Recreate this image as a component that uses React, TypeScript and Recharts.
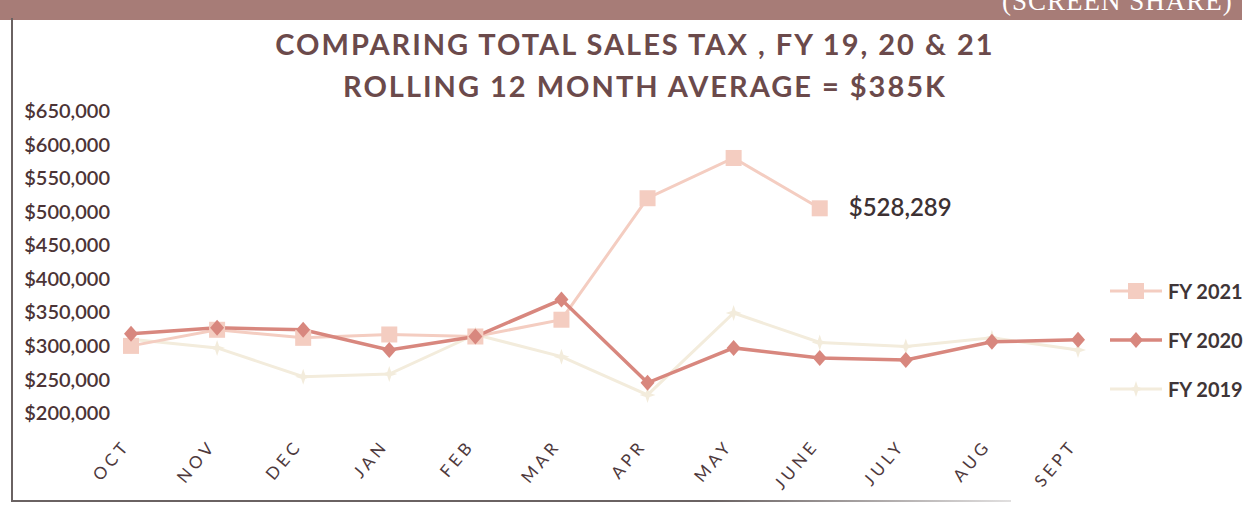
import React from 'react'
import { LineChart, Line, XAxis, YAxis, LabelList } from 'recharts'

// values
const months = ['OCT', 'NOV', 'DEC', 'JAN', 'FEB', 'MAR', 'APR', 'MAY', 'JUNE', 'JULY', 'AUG', 'SEPT']
const fy2021 = [300000, 324000, 312000, 317000, 314000, 339000, 520000, 580000, 505000, null, null, null]
const fy2020 = [318000, 327000, 324000, 294000, 314000, 369000, 245000, 297000, 282000, 279000, 306000, 309000]
const fy2019 = [310000, 297000, 254000, 258000, 317000, 284000, 227000, 349000, 305000, 299000, 312000, 294000]
const yTicks = [200000, 250000, 300000, 350000, 400000, 450000, 500000, 550000, 600000, 650000]

const title = 'COMPARING TOTAL SALES TAX , FY 19, 20 & 21'
const subtitle = 'ROLLING 12 MONTH AVERAGE = $385K'
const calloutText = '$528,289'
const calloutMonth = 'JUNE'
const headerText = '(SCREEN SHARE)'

const data = months.map((m, i) => ({
  month: m,
  fy2021: fy2021[i],
  fy2020: fy2020[i],
  fy2019: fy2019[i],
}))

const C21 = '#f4cdc1'
const C20 = '#d8877e'
const C19 = '#f3ecdc'
const TEXT = '#4c3436'

const SquareDot = (p: any) => {
  if (p.cx == null || p.cy == null || p.value == null) return null
  return <rect key={p.key} x={p.cx - 8} y={p.cy - 8} width={16} height={16} fill={C21} />
}

const DiamondDot = (p: any) => {
  if (p.cx == null || p.cy == null) return null
  const { cx, cy } = p
  return (
    <polygon
      key={p.key}
      points={`${cx},${cy - 8} ${cx + 7},${cy} ${cx},${cy + 8} ${cx - 7},${cy}`}
      fill={C20}
    />
  )
}

const StarDot = (p: any) => {
  if (p.cx == null || p.cy == null) return null
  const { cx, cy } = p
  return (
    <polygon
      key={p.key}
      points={`${cx},${cy - 8} ${cx + 2},${cy - 2} ${cx + 8},${cy} ${cx + 2},${cy + 2} ${cx},${cy + 8} ${cx - 2},${cy + 2} ${cx - 8},${cy} ${cx - 2},${cy - 2}`}
      fill={C19}
    />
  )
}

const series = [
  { key: 'fy2021', name: 'FY 2021', color: C21, width: 3, dot: SquareDot },
  { key: 'fy2020', name: 'FY 2020', color: C20, width: 3.5, dot: DiamondDot },
  { key: 'fy2019', name: 'FY 2019', color: C19, width: 3, dot: StarDot },
]

const MonthTick = ({ x, y, payload }: any) => {
  const ax = x
  const ay = y + 33
  return (
    <text
      x={ax}
      y={ay}
      textAnchor="end"
      transform={`rotate(-50, ${ax}, ${ay})`}
      fill="#4e393c"
      fontSize={17}
      letterSpacing={4}
      fontFamily="Lato"
    >
      {payload.value}
    </text>
  )
}

const Callout = (p: any) => {
  if (data[p.index]?.month !== calloutMonth) return null
  return (
    <text x={p.x + 29} y={p.y} dy={8} fill="#3d3133" fontSize={24} fontWeight={600} fontFamily="Lato">
      {calloutText}
    </text>
  )
}

const LegendIcon = ({ s }: any) => (
  <svg width={52} height={20} style={{ marginRight: 6 }}>
    <line x1={0} y1={10} x2={52} y2={10} stroke={s.color} strokeWidth={s.width} />
    {s.dot({ cx: 26, cy: 10, value: 1, key: s.key })}
  </svg>
)

export default function App() {
  return (
    <div
      style={{
        position: 'absolute',
        left: 0,
        top: 0,
        width: 1252,
        height: 515,
        background: '#fff',
        overflow: 'hidden',
        fontFamily: 'Lato',
      }}
    >
      {/* slide header band, cut off by the scan */}
      <div style={{ position: 'absolute', left: 0, top: 0, width: 1242, height: 20, background: '#a77c77', overflow: 'hidden' }}>
        <div style={{ position: 'absolute', left: 1002, top: -14, color: '#fff', fontFamily: 'Liberation Serif', fontSize: 27, letterSpacing: 1, whiteSpace: 'nowrap' }}>
          {headerText}
        </div>
      </div>
      <div style={{ position: 'absolute', left: 11, top: 18, width: 2, height: 484, background: '#6a6262' }} />
      <div style={{ position: 'absolute', left: 11, top: 500, width: 1000, height: 2, background: 'linear-gradient(to right, #6a6262 70%, rgba(106,98,98,0.2))' }} />

      <div style={{ position: 'absolute', left: 0, width: 1270, top: 26, textAlign: 'center', color: '#6b4a4b', fontSize: 29, fontWeight: 700, letterSpacing: 2 }}>
        {title}
      </div>
      <div style={{ position: 'absolute', left: 0, width: 1290, top: 68, textAlign: 'center', color: '#6b4a4b', fontSize: 29, fontWeight: 700, letterSpacing: 2 }}>
        {subtitle}
      </div>

      <LineChart width={1252} height={515} data={data} margin={{ top: 111, right: 154, bottom: 42, left: 12 }}>
        <XAxis
          dataKey="month"
          axisLine={false}
          tickLine={false}
          tickSize={0}
          tickMargin={0}
          height={60}
          interval={0}
          padding={{ left: 19, right: 20 }}
          tick={<MonthTick />}
        />
        <YAxis
          domain={[200000, 650000]}
          ticks={yTicks}
          axisLine={false}
          tickLine={false}
          tickSize={0}
          tickMargin={2}
          width={100}
          interval={0}
          tick={{ fill: TEXT, fontSize: 20, fontWeight: 600, fontFamily: 'Lato' }}
          tickFormatter={(v: number) => '$' + v.toLocaleString('en-US')}
        />
        <Line dataKey="fy2019" name="FY 2019" stroke={C19} strokeWidth={3} dot={<StarDot />} isAnimationActive={false} />
        <Line dataKey="fy2021" name="FY 2021" stroke={C21} strokeWidth={3} dot={<SquareDot />} isAnimationActive={false}>
          <LabelList dataKey="fy2021" content={<Callout />} />
        </Line>
        <Line dataKey="fy2020" name="FY 2020" stroke={C20} strokeWidth={3.5} dot={<DiamondDot />} isAnimationActive={false} />
      </LineChart>

      <div style={{ position: 'absolute', left: 1110, top: 266 }}>
        {series.map((s) => (
          <div key={s.key} style={{ display: 'flex', alignItems: 'center', height: 49 }}>
            <LegendIcon s={s} />
            <span style={{ color: '#3f3537', fontSize: 20, fontWeight: 700 }}>{s.name}</span>
          </div>
        ))}
      </div>
    </div>
  )
}
